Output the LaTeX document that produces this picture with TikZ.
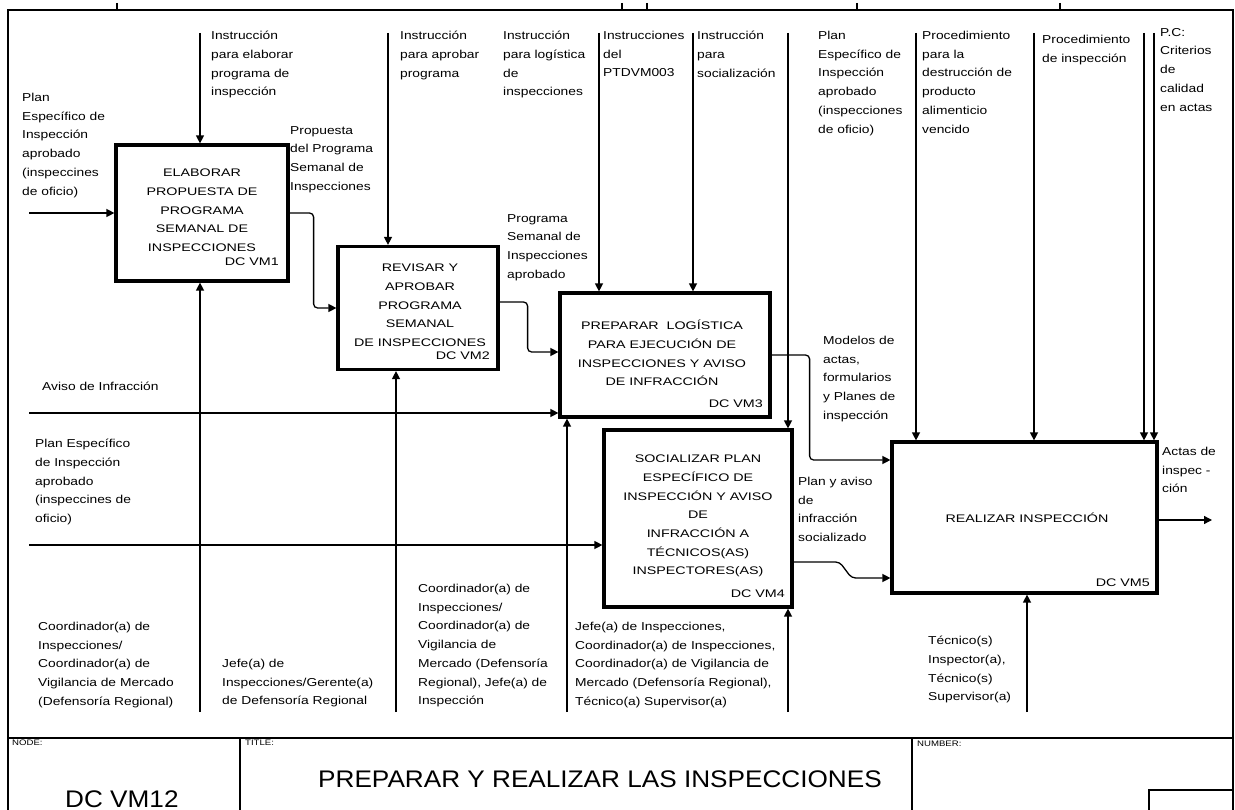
\documentclass[tikz,border=0pt]{standalone}
\usepackage{fontspec}
\setmainfont{Liberation Sans}[FakeStretch=1.2]
\newfontfamily\boxfont{Liberation Sans}[FakeStretch=1.3]
\newfontfamily\bigfont{Liberation Sans}[FakeStretch=1.09]
\usetikzlibrary{arrows.meta}
\tikzset{
  frame/.style={line width=1.6pt},
  proc/.style={draw, line width=3.2pt, inner sep=0pt},
  proctext/.style={align=center, inner sep=0pt,
    font=\boxfont\fontsize{11}{18.7}\selectfont},
  procid/.style={anchor=base east, inner sep=0pt, font=\boxfont\fontsize{11}{13}\selectfont},
  lbl/.style={anchor=north west, align=left, inner sep=0pt,
    font=\fontsize{11.5}{18.7}\selectfont},
  conn/.style={line width=1.3pt, rounded corners=4pt, -{Triangle[length=8pt,width=8pt]}},
  small/.style={anchor=north west, inner sep=0pt, font=\fontsize{8}{9}\selectfont}
}
\begin{document}
\begin{tikzpicture}[x=1pt,y=-1pt]
\useasboundingbox (0,0) rectangle (1235,810);
% frame
\draw[frame] (8,810) -- (8,10) -- (1233,10) -- (1233,810);
\draw[frame] (8,738) -- (1233,738);
\draw[frame] (240,738) -- (240,810);
\draw[frame] (912,738) -- (912,810);
\draw[frame] (1149,810) -- (1149,790) -- (1233,790);
\foreach \x in {117,622,647,857,1060} \draw[frame] (\x,3) -- (\x,10);
% title block
\node[small] (nodelbl) at (12,740) {NODE:};
\node[small] (titlelbl) at (245,740) {TITLE:};
\node[small] (numlbl) at (917,741) {NUMBER:};
\node[anchor=base west, inner sep=0pt, font=\bigfont\fontsize{24}{26}\selectfont] (nodeval) at (65,807) {DC VM12};
\node[anchor=base west, inner sep=0pt, font=\bigfont\fontsize{24}{26}\selectfont] (titleval) at (318,787) {PREPARAR Y REALIZAR LAS INSPECCIONES};
% boxes
\node[proc, minimum width=172pt, minimum height=136pt] (b1) at (202,213) {};
\node[proctext] (b1t) at (202,210.5)
  {ELABORAR\\PROPUESTA DE\\PROGRAMA\\SEMANAL DE\\INSPECCIONES};
\node[procid] (b1id) at (279,266) {DC VM1};
\node[proc, minimum width=160pt, minimum height=123pt] (b2) at (418,308) {};
\node[proctext] (b2t) at (420,305.5)
  {REVISAR Y\\APROBAR\\PROGRAMA\\SEMANAL\\DE INSPECCIONES};
\node[procid] (b2id) at (490,360) {DC VM2};
\node[proc, minimum width=210pt, minimum height=124pt] (b3) at (665,355) {};
\node[proctext] (b3t) at (662,353)
  {PREPARAR~ LOGÍSTICA\\PARA EJECUCIÓN DE\\INSPECCIONES Y AVISO\\DE INFRACCIÓN};
\node[procid] (b3id) at (763,408) {DC VM3};
\node[proc, minimum width=188pt, minimum height=177pt] (b4) at (698,518.5) {};
\node[proctext] (b4t) at (698,516)
  {SOCIALIZAR PLAN\\ESPECÍFICO DE\\INSPECCIÓN Y AVISO\\DE\\INFRACCIÓN A\\TÉCNICOS(AS)\\INSPECTORES(AS)};
\node[procid] (b4id) at (785,597) {DC VM4};
\node[proc, minimum width=265pt, minimum height=151pt] (b5) at (1024.5,517.5) {};
\node[proctext] (b5t) at (1027,518) {REALIZAR INSPECCIÓN};
\node[procid] (b5id) at (1150,586) {DC VM5};
% free ends
\coordinate (c1s) at (200,33);
\coordinate (i1s) at (29,213);
\coordinate (m1s) at (200,712);
\coordinate (c2s) at (388,33);
\coordinate (m2s) at (396,712);
\coordinate (c3as) at (599,33);
\coordinate (c3bs) at (693,33);
\coordinate (i3s) at (29,413);
\coordinate (m3s) at (567,712);
\coordinate (c4s) at (788,33);
\coordinate (i4s) at (29,545);
\coordinate (m4s) at (788,712);
\coordinate (c5as) at (916,33);
\coordinate (c5bs) at (1034,33);
\coordinate (c5cs) at (1144,33);
\coordinate (c5ds) at (1154,33);
\coordinate (m5s) at (1027,712);
\coordinate (o5e) at (1212,520);
% box 1
\draw[conn] (c1s) -- (c1s |- b1.north);
\draw[conn] (i1s) -- (i1s -| b1.west);
\draw[conn] (m1s) -- (m1s |- b1.south);
\draw[conn] (b1.east) -- ++(24,0) |- (b2.west);
% box 2
\draw[conn] (c2s) -- (c2s |- b2.north);
\draw[conn] (m2s) -- (m2s |- b2.south);
\draw[conn] ([yshift=6pt]b2.east) -- ++(28,0) |- ([yshift=3pt]b3.west);
% box 3
\draw[conn] (c3as) -- (c3as |- b3.north);
\draw[conn] (c3bs) -- (c3bs |- b3.north);
\draw[conn] (i3s) -- (i3s -| b3.west);
\draw[conn] (m3s) -- (m3s |- b3.south);
\draw[conn] (b3.east) -- ++(38,0) |- ([yshift=57.5pt]b5.west);
% box 4
\draw[conn] (c4s) -- (c4s |- b4.north);
\draw[conn] (i4s) -- (i4s -| b4.west);
\draw[conn] (m4s) -- (m4s |- b4.south);
\draw[conn] ([yshift=-43.5pt]b4.east) -- ++(46,0) -- ++(12,16) -- ([yshift=-60.5pt]b5.west);
% box 5
\draw[conn] (c5as) -- (c5as |- b5.north);
\draw[conn] (c5bs) -- (c5bs |- b5.north);
\draw[conn] (c5cs) -- (c5cs |- b5.north);
\draw[conn] (c5ds) -- (c5ds |- b5.north);
\draw[conn] (m5s) -- (m5s |- b5.south);
\draw[conn] ([yshift=-2.5pt]b5.east) -- (o5e);
% labels
\node[lbl] (lc1) at (211,31) {Instrucción\\para elaborar\\programa de\\inspección};
\node[lbl] (li1) at (22,93) {Plan\\Específico de\\Inspección\\aprobado\\(inspeccines\\de oficio)};
\node[lbl] (lo1) at (290,126) {Propuesta\\del Programa\\Semanal de\\Inspecciones};
\node[lbl] (lc2) at (400,31) {Instrucción\\para aprobar\\programa};
\node[lbl] (lc3a) at (503,31) {Instrucción\\para logística\\de\\inspecciones};
\node[lbl] (lc3b) at (603,31) {Instrucciones\\del\\PTDVM003};
\node[lbl] (lc4) at (697,31) {Instrucción\\para\\socialización};
\node[lbl] (lo2) at (507,214) {Programa\\Semanal de\\Inspecciones\\aprobado};
\node[lbl] (lc5a) at (818,31) {Plan\\Específico de\\Inspección\\aprobado\\(inspecciones\\de oficio)};
\node[lbl] (lc5b) at (922,31) {Procedimiento\\para la\\destrucción de\\producto\\alimenticio\\vencido};
\node[lbl] (lc5c) at (1042,35) {Procedimiento\\de inspección};
\node[lbl] (lc5d) at (1160,28) {P.C:\\Criterios\\de\\calidad\\en actas};
\node[lbl] (li3) at (42,382) {Aviso de Infracción};
\node[lbl] (li4) at (35,439) {Plan Específico\\de Inspección\\aprobado\\(inspeccines de\\oficio)};
\node[lbl] (lo3) at (823,336) {Modelos de\\actas,\\formularios\\y Planes de\\inspección};
\node[lbl] (lo4) at (798,477) {Plan y aviso\\de\\infracción\\socializado};
\node[lbl] (lo5) at (1162,447) {Actas de\\inspec -\\ción};
\node[lbl] (lm1) at (38,622) {Coordinador(a) de\\Inspecciones/\\Coordinador(a) de\\Vigilancia de Mercado\\(Defensoría Regional)};
\node[lbl] (lm2) at (222,659) {Jefe(a) de\\Inspecciones/Gerente(a)\\de Defensoría Regional};
\node[lbl] (lm3) at (418,584) {Coordinador(a) de\\Inspecciones/\\Coordinador(a) de\\Vigilancia de\\Mercado (Defensoría\\Regional), Jefe(a) de\\Inspección};
\node[lbl] (lm4) at (575,622) {Jefe(a) de Inspecciones,\\Coordinador(a) de Inspecciones,\\Coordinador(a) de Vigilancia de\\Mercado (Defensoría Regional),\\Técnico(a) Supervisor(a)};
\node[lbl] (lm5) at (928,636) {Técnico(s)\\Inspector(a),\\Técnico(s)\\Supervisor(a)};
\end{tikzpicture}
\end{document}
